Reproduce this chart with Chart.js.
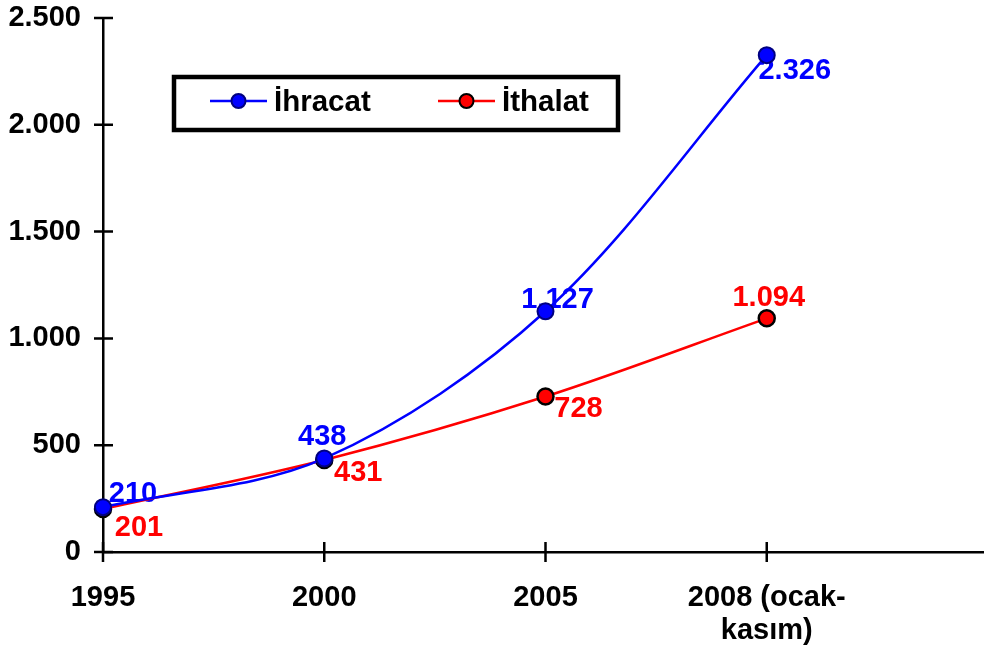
<!DOCTYPE html>
<html>
<head>
<meta charset="utf-8">
<script src="https://cdn.jsdelivr.net/npm/chart.js@4/dist/chart.umd.min.js"></script>
<style>
html,body{margin:0;padding:0;background:#fff;overflow:hidden;}
#wrap{width:984px;height:649px;overflow:hidden;}
canvas{display:block;}
</style>
</head>
<body>
<div id="wrap"><canvas id="c" width="988" height="649"></canvas></div>
<script>
const categories = ['1995', '2000', '2005', ['2008 (ocak-', 'kasım)'], ''];
const ihracat = [210, 438, 1127, 2326];
const ithalat = [201, 431, 728, 1094];
const seriesNames = ['İhracat', 'İthalat'];
const yTickValues = [0, 500, 1000, 1500, 2000, 2500];

const FONT = '"Liberation Sans", Arial, sans-serif';
const fmt = v => String(v).replace(/\B(?=(\d{3})+(?!\d))/g, '.');

const labelOffsets = [
  [[30, -14], [-2, -22], [12, -12], [28, 15]],
  [[36, 18], [34, 12], [33, 12], [2, -21]]
];

const tickMarks = {
  id: 'tickMarks',
  beforeDatasetsDraw(chart) {
    const ctx = chart.ctx, x = chart.scales.x, y = chart.scales.y;
    ctx.save();
    ctx.strokeStyle = '#000';
    ctx.lineWidth = 2.5;
    ctx.beginPath();
    yTickValues.forEach(v => {
      const py = y.getPixelForValue(v);
      ctx.moveTo(x.left - 9, py); ctx.lineTo(x.left + 10, py);
    });
    for (let i = 0; i < categories.length; i++) {
      const px = x.getPixelForTick(i);
      ctx.moveTo(px, y.bottom - 10); ctx.lineTo(px, y.bottom + 10);
    }
    ctx.stroke();
    ctx.restore();
  }
};

const dataLabels = {
  id: 'dataLabels',
  beforeDatasetsDraw(chart) {
    const ctx = chart.ctx;
    ctx.save();
    ctx.font = 'bold 29px ' + FONT;
    ctx.textAlign = 'center';
    ctx.textBaseline = 'middle';
    chart.data.datasets.forEach((ds, di) => {
      const meta = chart.getDatasetMeta(di);
      ctx.fillStyle = ds.borderColor;
      meta.data.forEach((pt, i) => {
        const o = labelOffsets[di][i];
        ctx.fillText(fmt(ds.data[i]), pt.x + o[0], pt.y + o[1] + 1);
      });
    });
    ctx.restore();
  }
};

const boxLegend = {
  id: 'boxLegend',
  afterDraw(chart) {
    const ctx = chart.ctx;
    ctx.save();
    ctx.fillStyle = '#fff';
    ctx.fillRect(174, 77, 444, 53);
    ctx.strokeStyle = '#000';
    ctx.lineWidth = 4.5;
    ctx.strokeRect(174, 77, 444, 53);
    const items = [{x: 210}, {x: 438}];
    chart.data.datasets.forEach((ds, i) => {
      const lx = items[i].x, ly = 101;
      ctx.strokeStyle = ds.borderColor;
      ctx.lineWidth = 2.5;
      ctx.beginPath(); ctx.moveTo(lx, ly); ctx.lineTo(lx + 57, ly); ctx.stroke();
      ctx.beginPath(); ctx.arc(lx + 28.5, ly, 7, 0, Math.PI * 2);
      ctx.fillStyle = ds.pointBackgroundColor; ctx.fill();
      ctx.lineWidth = 2; ctx.strokeStyle = ds.pointBorderColor; ctx.stroke();
      ctx.fillStyle = '#000';
      ctx.font = 'bold 29.5px ' + FONT;
      ctx.textAlign = 'left';
      ctx.textBaseline = 'alphabetic';
      ctx.fillText(ds.label, lx + 64, 111);
    });
    ctx.restore();
  }
};

new Chart(document.getElementById('c'), {
  type: 'line',
  data: {
    labels: categories,
    datasets: [
      {
        label: seriesNames[0], data: ihracat,
        borderColor: '#0000FF', borderWidth: 2.5,
        pointBackgroundColor: '#0000FF', pointBorderColor: '#000080',
        pointRadius: 8, pointBorderWidth: 2, tension: 0.33
      },
      {
        label: seriesNames[1], data: ithalat,
        borderColor: '#FF0000', borderWidth: 2.5,
        pointBackgroundColor: '#FF0000', pointBorderColor: '#000000',
        pointRadius: 8, pointBorderWidth: 2.5, tension: 0.33
      }
    ]
  },
  options: {
    responsive: false,
    animation: false,
    devicePixelRatio: 1,
    layout: { autoPadding: false, padding: { left: 0, right: 0, top: 18, bottom: 0 } },
    plugins: { legend: { display: false }, tooltip: { enabled: false } },
    scales: {
      x: {
        type: 'category',
        grid: { display: false, drawTicks: false },
        border: { display: true, color: '#000', width: 2.5 },
        ticks: {
          color: '#000', font: { family: FONT, size: 29, weight: 'bold', lineHeight: 1.15 },
          padding: 29, maxRotation: 0, autoSkip: false
        },
        afterFit(s) { s.height = 97; s.paddingLeft = 0; s.paddingRight = 0; }
      },
      y: {
        min: 0, max: 2500,
        afterBuildTicks(s) { s.ticks = yTickValues.map(v => ({ value: v })); },
        grid: { display: false, drawTicks: false },
        border: { display: true, color: '#000', width: 2.5 },
        ticks: {
          color: '#000', font: { family: FONT, size: 29, weight: 'bold' },
          padding: 22, callback: v => fmt(v)
        },
        afterFit(s) { s.width = 103; s.paddingTop = 0; s.paddingBottom = 0; }
      }
    }
  },
  plugins: [tickMarks, dataLabels, boxLegend]
});
</script>
</body>
</html>
